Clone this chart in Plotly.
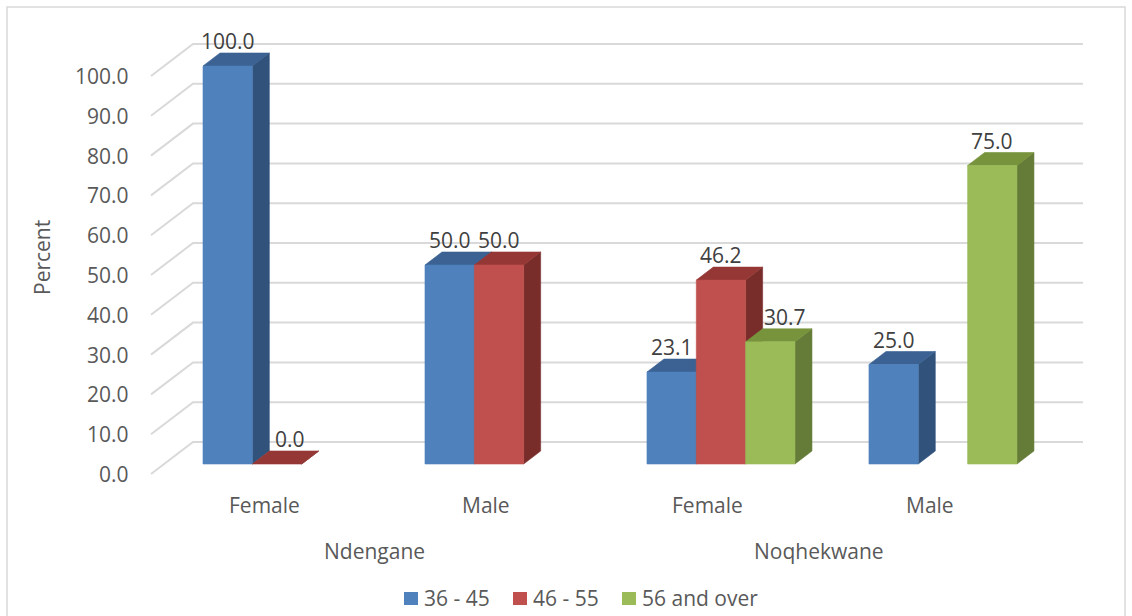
import plotly.graph_objects as go

# ---- data -------------------------------------------------------------
areas = ["Ndengane", "Noqhekwane"]
genders = ["Female", "Male", "Female", "Male"]
series_names = ["36 - 45", "46 - 55", "56 and over"]
age_36_45 = [100.0, 50.0, 23.1, 25.0]
age_46_55 = [0.0, 50.0, 46.2, None]
age_56_over = [None, None, 30.7, 75.0]
y_ticks = [0, 10, 20, 30, 40, 50, 60, 70, 80, 90, 100]

# ---- styling ----------------------------------------------------------
W, H = 1132, 616
PX_X = 49.33          # pixels per bar slot
PX_Y = 3.98           # pixels per percent
X0_PX = 203           # left edge of first slot
Y0_PX = 464           # baseline of bar front faces
GROUP_STEP = 4.5      # slots between categories

front_cols = ["#4F81BD", "#C0504D", "#9BBB59"]
top_cols = ["#3B6292", "#953735", "#77933C"]
side_cols = ["#30527B", "#782D2B", "#657C38"]
grid_col = "#D9D9D9"
text_col = "#595959"
label_col = "#404040"
FONT = "Open Sans"
FS = 21

# 3-D offsets (expressed in axis units)
BAR_DX, BAR_DY = 17 / PX_X, 13 / PX_Y           # bar depth
FLOOR_DX, FLOOR_DY = -13 / PX_X, -10 / PX_Y     # floor front edge vs bar front
WALL_DX, WALL_DY = 29 / PX_X, 22 / PX_Y         # back wall vs bar front
GRID_END = (1083 - X0_PX) / PX_X

label_xshift = {(0, 1): 13, (2, 2): 15}


def px_to_x(px):
    return (px - X0_PX) / PX_X


def px_to_y(py):
    return (Y0_PX - py) / PX_Y


fig = go.Figure()

# ---- gridlines (floor diagonals + back wall) ---------------------------
gx, gy = [], []
for t in y_ticks:
    gx += [FLOOR_DX + px_to_x(164), WALL_DX + px_to_x(164), GRID_END, None]
    gy += [t + FLOOR_DY, t + WALL_DY, t + WALL_DY, None]
fig.add_trace(go.Scatter(x=gx, y=gy, mode="lines", hoverinfo="skip",
                         line=dict(color=grid_col, width=2), showlegend=False))

# ---- 3-D bars ----------------------------------------------------------
all_series = [age_36_45, age_46_55, age_56_over]
annotations = []
for j, vals in enumerate(all_series):
    sx, sy, tx, ty, fx, fy = [], [], [], [], [], []
    for i, v in enumerate(vals):
        if v is None:
            continue
        x0 = i * GROUP_STEP + j
        x1 = x0 + 1
        # side face
        sx += [x1, x1 + BAR_DX, x1 + BAR_DX, x1, x1, None]
        sy += [0, BAR_DY, v + BAR_DY, v, 0, None]
        # top face
        tx += [x0, x1, x1 + BAR_DX, x0 + BAR_DX, x0, None]
        ty += [v, v, v + BAR_DY, v + BAR_DY, v, None]
        # front face
        if v > 0:
            fx += [x0, x1, x1, x0, x0, None]
            fy += [0, 0, v, v, 0, None]
        annotations.append(dict(
            x=x0 + 0.5, y=v, xref="x", yref="y", text=f"{v:.1f}",
            showarrow=False, yanchor="middle", yshift=25,
            xshift=label_xshift.get((i, j), 0),
            font=dict(family=FONT, size=FS, color=label_col)))
    for xs, ys, col in ((sx, sy, side_cols[j]), (tx, ty, top_cols[j]),
                        (fx, fy, front_cols[j])):
        if xs:
            fig.add_trace(go.Scatter(
                x=xs, y=ys, mode="lines", fill="toself", fillcolor=col,
                line=dict(color=col, width=0.6), hoverinfo="skip",
                showlegend=False, name=series_names[j]))

# ---- y tick labels -----------------------------------------------------
for t in y_ticks:
    annotations.append(dict(
        x=px_to_x(131), y=t + FLOOR_DY, xref="x", yref="y", text=f"{t:.1f}",
        showarrow=False, xanchor="right", yanchor="middle",
        font=dict(family=FONT, size=FS, color=text_col)))

# ---- category labels ---------------------------------------------------
for i, g in enumerate(genders):
    annotations.append(dict(
        x=i * GROUP_STEP + 1.5 + FLOOR_DX, y=px_to_y(505), xref="x", yref="y",
        text=g, showarrow=False, xanchor="center", yanchor="middle",
        font=dict(family=FONT, size=FS, color=text_col)))
for k, a in enumerate(areas):
    cx = (2 * k + 0.5) * GROUP_STEP + 1.5 + FLOOR_DX
    annotations.append(dict(
        x=cx, y=px_to_y(551), xref="x", yref="y", text=a, showarrow=False,
        xanchor="center", yanchor="middle",
        font=dict(family=FONT, size=FS, color=text_col)))

# ---- axis title --------------------------------------------------------
annotations.append(dict(
    x=42 / W, y=1 - 258 / H, xref="paper", yref="paper", text="Percent",
    textangle=-90, showarrow=False, xanchor="center", yanchor="middle",
    font=dict(family=FONT, size=FS, color=text_col)))

# ---- legend ------------------------------------------------------------
shapes = [dict(type="rect", xref="paper", yref="paper",
               x0=7 / W, x1=1125 / W, y0=-0.1, y1=1 - 7 / H,
               line=dict(color=grid_col, width=1.5), fillcolor="rgba(0,0,0,0)")]
legend_sq = [404, 513, 622]
for j, name in enumerate(series_names):
    x0 = legend_sq[j]
    shapes.append(dict(type="rect", xref="paper", yref="paper",
                       x0=x0 / W, x1=(x0 + 14) / W,
                       y0=1 - 605 / H, y1=1 - 592 / H,
                       line=dict(width=0), fillcolor=front_cols[j]))
    annotations.append(dict(
        x=(x0 + 18) / W, y=1 - 598 / H, xref="paper", yref="paper", text=name,
        showarrow=False, xanchor="left", yanchor="middle",
        font=dict(family=FONT, size=FS, color=text_col)))

fig.update_layout(
    width=W, height=H,
    margin=dict(l=0, r=0, t=0, b=0),
    paper_bgcolor="white", plot_bgcolor="white",
    xaxis=dict(visible=False, range=[px_to_x(0), px_to_x(W)], fixedrange=True),
    yaxis=dict(visible=False, range=[px_to_y(H), px_to_y(0)], fixedrange=True),
    showlegend=False,
    annotations=annotations,
    shapes=shapes,
)

fig.write_html("out.html")
